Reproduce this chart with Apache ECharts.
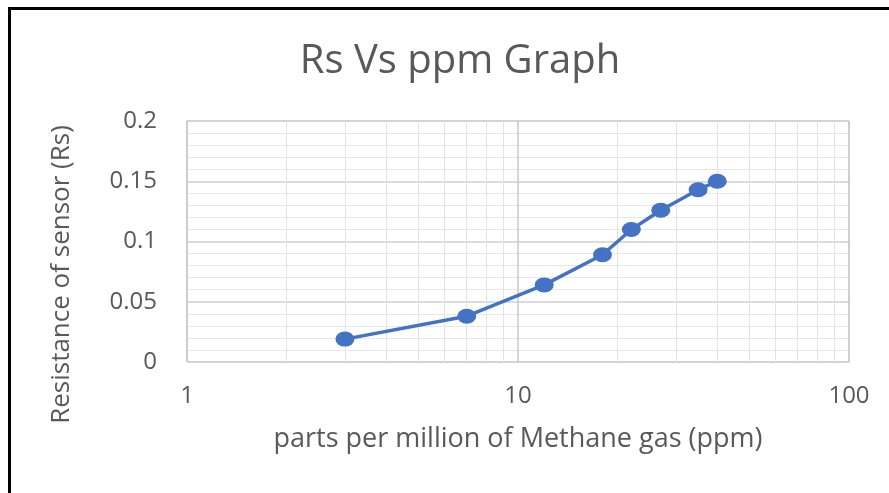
<!DOCTYPE html>
<html>
<head>
<meta charset="utf-8">
<title>Rs Vs ppm Graph</title>
<script src="https://cdn.jsdelivr.net/npm/echarts@6/dist/echarts.min.js"></script>
<style>
  html, body { margin: 0; padding: 0; background: #fff; }
  #frame {
    position: absolute; left: 8px; top: 7px; right: -4px; bottom: -4px;
    border-left: 3px solid #000; border-top: 3px solid #000;
  }
  #chart { position: absolute; left: 0; top: 0; width: 889px; height: 493px; }
</style>
</head>
<body>
<div id="chart"></div>
<div id="frame"></div>
<script>
// values
var ppm = [3, 7, 12, 18, 22, 27, 35, 40];
var rs = [0.019, 0.038, 0.064, 0.089, 0.11, 0.126, 0.143, 0.150];
var minorPpm = [2, 3, 4, 5, 6, 7, 8, 9, 20, 30, 40, 50, 60, 70, 80, 90];

(function () {
  var el = document.getElementById("chart");
  var chart = echarts.init(el);
  var font = "'Open Sans', 'Noto Sans', sans-serif";
  var grey = "#595959";

  chart.setOption({
    animation: false,
    title: {
      text: "Rs Vs ppm Graph",
      left: 455,
      top: 37,
      textAlign: "center",
      textStyle: { fontFamily: font, fontSize: 40, fontWeight: "normal", color: grey }
    },
    grid: { left: 187, right: 40, top: 121, bottom: 131, show: true, borderColor: "#bfbfbf", borderWidth: 1 },
    xAxis: {
      type: "log",
      logBase: 10,
      min: 1,
      max: 100,
      name: "parts per million of Methane gas (ppm)",
      nameLocation: "middle",
      nameGap: 64,
      nameTextStyle: { fontFamily: font, fontSize: 27, color: grey },
      axisLine: { show: false },
      axisTick: { show: false },
      axisLabel: { fontFamily: font, fontSize: 24, color: grey, margin: 22 },
      splitLine: { show: true, lineStyle: { color: "#c8c8c8", width: 1.5 } }
    },
    yAxis: {
      type: "value",
      min: 0,
      max: 0.2,
      interval: 0.05,
      name: "Resistance of sensor (Rs)",
      nameLocation: "middle",
      nameGap: 112,
      nameTextStyle: { fontFamily: font, fontSize: 26, color: grey, padding: [0, 66, 0, 0] },
      axisLine: { show: false },
      axisTick: { show: false },
      axisLabel: { fontFamily: font, fontSize: 24, color: grey, margin: 30 },
      splitLine: { show: true, lineStyle: { color: "#d0d0d0", width: 1.5 } },
      minorTick: { show: false, splitNumber: 5 },
      minorSplitLine: { show: true, lineStyle: { color: "#e8e8e8", width: 1 } }
    },
    series: [
      {
        type: "line",
        data: ppm.map(function (x, i) { return [x, rs[i]]; }),
        symbol: "circle",
        symbolSize: [19, 15],
        lineStyle: { color: "#4472C4", width: 3.5 },
        itemStyle: { color: "#4472C4" },
        z: 5,
        markLine: {
          silent: true,
          symbol: "none",
          label: { show: false },
          lineStyle: { color: "#e3e3e3", width: 1, type: "solid" },
          data: minorPpm.map(function (v) { return { xAxis: v }; }),
          z: 1
        }
      }
    ]
  });
})();
</script>
</body>
</html>
